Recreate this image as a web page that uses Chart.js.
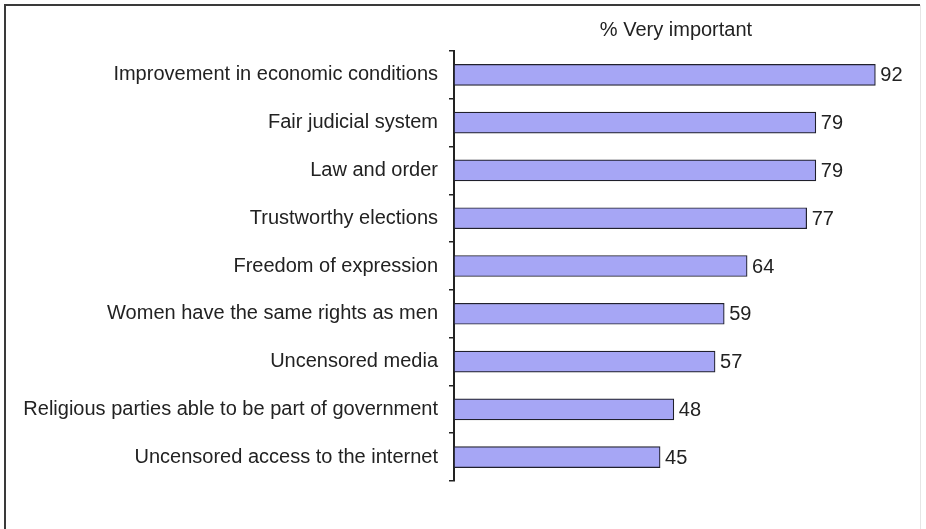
<!DOCTYPE html>
<html>
<head>
<meta charset="utf-8">
<script src="https://cdn.jsdelivr.net/npm/chart.js@4/dist/chart.umd.min.js"></script>
<style>
    html, body { margin: 0; padding: 0; background: #ffffff; }
    #wrap { position: relative; width: 926px; height: 529px; }
</style>
</head>
<body>
<div id="wrap"><canvas id="barChart"></canvas></div>
<script>
const categories = [
    'Improvement in economic conditions',
    'Fair judicial system',
    'Law and order',
    'Trustworthy elections',
    'Freedom of expression',
    'Women have the same rights as men',
    'Uncensored media',
    'Religious parties able to be part of government',
    'Uncensored access to the internet'
];
const veryImportant = [92, 79, 79, 77, 64, 59, 57, 48, 45];
const seriesTitle = '% Very important';

const textColor = '#222222';
const fontFamily = '"Liberation Sans", Arial, sans-serif';

// frame around the picture, title over the plot, value labels at bar ends
const extrasPlugin = {
    id: 'extras',
    beforeDraw(chart) {
        const c = chart.ctx;
        c.save();
        c.strokeStyle = '#3a3a3a';
        c.lineWidth = 2;
        c.beginPath();
        c.moveTo(5, 529);
        c.lineTo(5, 5);
        c.lineTo(920, 5);
        c.stroke();
        c.strokeStyle = '#e6e6e6';
        c.lineWidth = 1;
        c.beginPath();
        c.moveTo(920.5, 5);
        c.lineTo(920.5, 529);
        c.stroke();
        c.restore();
    },
    afterDatasetsDraw(chart) {
        const c = chart.ctx;
        c.save();
        c.font = '20px ' + fontFamily;
        c.fillStyle = textColor;
        c.textAlign = 'center';
        c.textBaseline = 'middle';
        c.fillText(seriesTitle, 676, 30);

        c.textAlign = 'left';
        const meta = chart.getDatasetMeta(0);
        meta.data.forEach((bar, i) => {
            c.fillText(String(veryImportant[i]), bar.x + 5, bar.y + 1);
        });
        c.restore();
    }
};

new Chart(document.getElementById('barChart').getContext('2d'), {
    type: 'bar',
    data: {
        labels: categories,
        datasets: [{
            label: seriesTitle,
            data: veryImportant,
            backgroundColor: '#a6a6f5',
            borderColor: '#20202c',
            borderWidth: 1.2,
            borderSkipped: false,
            barThickness: 21
        }]
    },
    options: {
        indexAxis: 'y',
        responsive: true,
        maintainAspectRatio: false,
        animation: false,
        layout: {
            padding: { left: 0, top: 51, right: 14, bottom: 48 }
        },
        plugins: {
            legend: { display: false },
            title: { display: false },
            tooltip: { enabled: false }
        },
        scales: {
            x: {
                display: false,
                min: 0,
                max: 100
            },
            y: {
                afterFit(scale) {
                    scale.width = 454;
                },
                grid: {
                    offset: true,
                    drawOnChartArea: false,
                    tickLength: 5,
                    color: '#222222',
                    lineWidth: 1.5
                },
                border: {
                    color: '#222222',
                    width: 2
                },
                ticks: {
                    color: textColor,
                    padding: 11,
                    font: { family: fontFamily, size: 20 }
                }
            }
        }
    },
    plugins: [extrasPlugin]
});
</script>
</body>
</html>
